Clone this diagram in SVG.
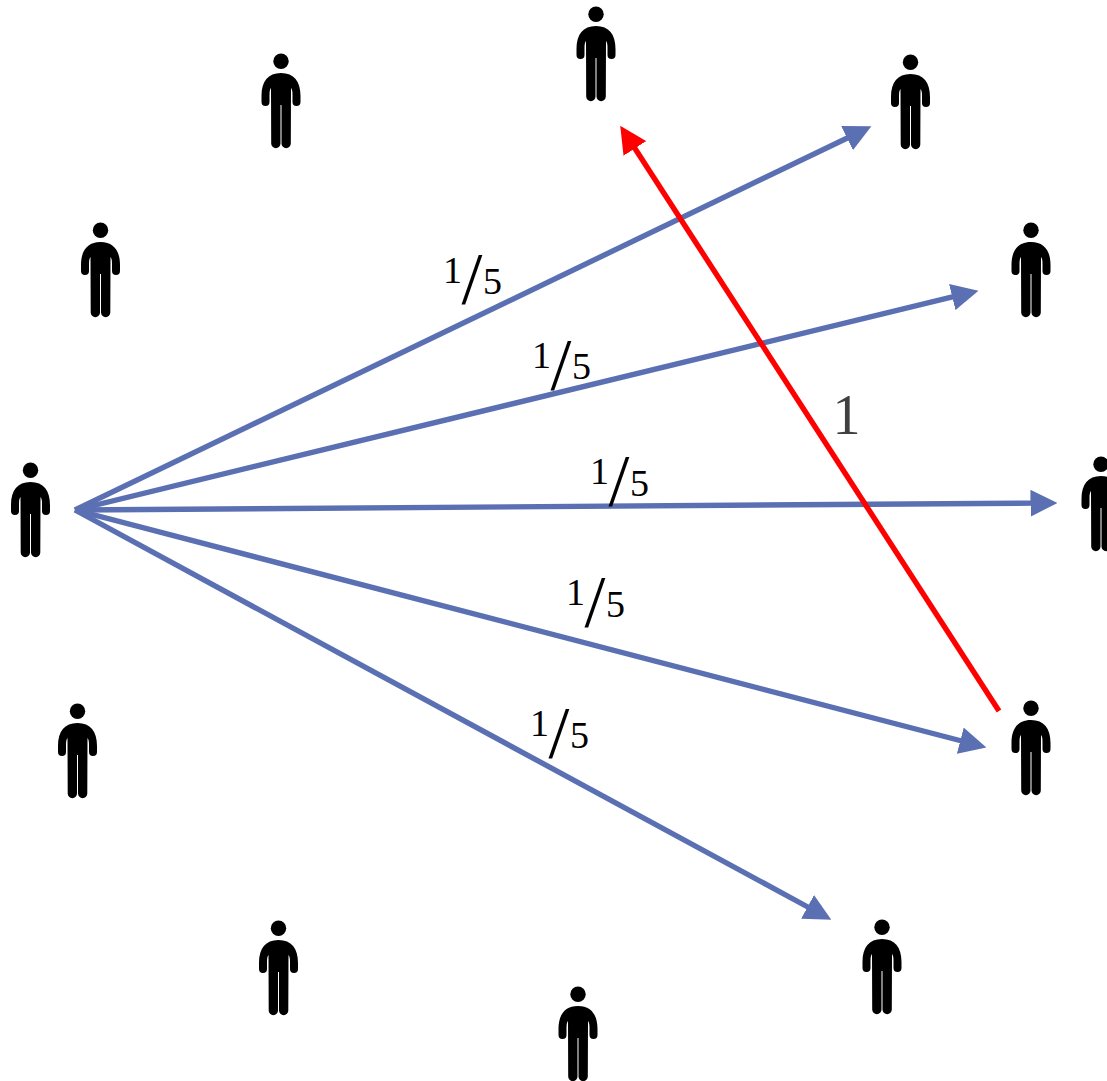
<svg xmlns="http://www.w3.org/2000/svg" xmlns:xlink="http://www.w3.org/1999/xlink" width="1107" height="1081" viewBox="0 0 1107 1081">
<style>
.blue{stroke:#5b70b3;stroke-width:5.4;fill:none;marker-end:url(#ab)}
.red{stroke:#ff0000;stroke-width:5.4;fill:none;marker-end:url(#ar)}
text{font-family:"Liberation Serif","Times New Roman",serif;fill:#000}
.d{font-size:38px}
.s{font-size:75px}
.big{font-size:56px;fill:#404040}
</style>
<defs>
<marker id="ab" markerUnits="userSpaceOnUse" markerWidth="27" markerHeight="27" viewBox="0 0 27 27" refX="5.5" refY="13.5" orient="auto"><path d="M0,0L27,13.5L0,27Z" fill="#5b70b3"/></marker>
<marker id="ar" markerUnits="userSpaceOnUse" markerWidth="27" markerHeight="27" viewBox="0 0 27 27" refX="5.5" refY="13.5" orient="auto"><path d="M0,0L27,13.5L0,27Z" fill="#ff0000"/></marker>
<g id="person">
<circle cx="0" cy="0.2" r="7.7"/>
<path d="M0,12C-13,12-19.5,20.5-19.5,35L-19.5,41A4,4 0 0 0-11.5,41L-11.5,34C-11.5,30-11,28-10,27L-9.8,82.5A4.6,4.6 0 0 0-0.5,82.5L-0.5,44L0.5,44L0.5,82.5A4.6,4.6 0 0 0 9.8,82.5L10,27C11,28 11.5,30 11.5,34L11.5,41A4,4 0 0 0 19.5,41L19.5,35C19.5,20.5 13,12 0,12Z"/>
</g>
</defs>
<rect width="1107" height="1081" fill="#ffffff"/>
<g id="node-1"><use xlink:href="#person" href="#person" x="30.5" y="470"/></g>
<g id="node-2"><use xlink:href="#person" href="#person" x="100.5" y="230"/></g>
<g id="node-3"><use xlink:href="#person" href="#person" x="281" y="61"/></g>
<g id="node-4"><use xlink:href="#person" href="#person" x="596" y="14"/></g>
<g id="node-5"><use xlink:href="#person" href="#person" x="910.5" y="62"/></g>
<g id="node-6"><use xlink:href="#person" href="#person" x="1031" y="230"/></g>
<g id="node-7"><use xlink:href="#person" href="#person" x="1101" y="464"/></g>
<g id="node-8"><use xlink:href="#person" href="#person" x="1031" y="708"/></g>
<g id="node-9"><use xlink:href="#person" href="#person" x="882" y="927"/></g>
<g id="node-10"><use xlink:href="#person" href="#person" x="578" y="994"/></g>
<g id="node-11"><use xlink:href="#person" href="#person" x="278.5" y="928"/></g>
<g id="node-12"><use xlink:href="#person" href="#person" x="77.5" y="711"/></g>
<g id="connectors">
<path class="blue" d="M75,510L852,135.7"/>
<path class="blue" d="M75,510L957.6,295.7"/>
<path class="blue" d="M75,510L1036,503.1"/>
<path class="blue" d="M75,510L965.6,742"/>
<path class="blue" d="M75,510L812.4,909.5"/>
<path class="red" d="M999,711L631.9,143.8"/>
</g>
<g id="labels">
<text class="d" x="443" y="283">1</text><text class="s" x="461.5" y="304">/</text><text class="d" x="483" y="294">5</text>
<text class="d" x="532" y="368">1</text><text class="s" x="550.5" y="390">/</text><text class="d" x="572" y="379">5</text>
<text class="d" x="590" y="484">1</text><text class="s" x="608.5" y="506">/</text><text class="d" x="630" y="496">5</text>
<text class="d" x="566" y="605">1</text><text class="s" x="584.5" y="627">/</text><text class="d" x="606" y="617">5</text>
<text class="d" x="530" y="736">1</text><text class="s" x="548.5" y="758">/</text><text class="d" x="570" y="748">5</text>
<text class="big" x="832.5" y="434">1</text>
</g>
</svg>
